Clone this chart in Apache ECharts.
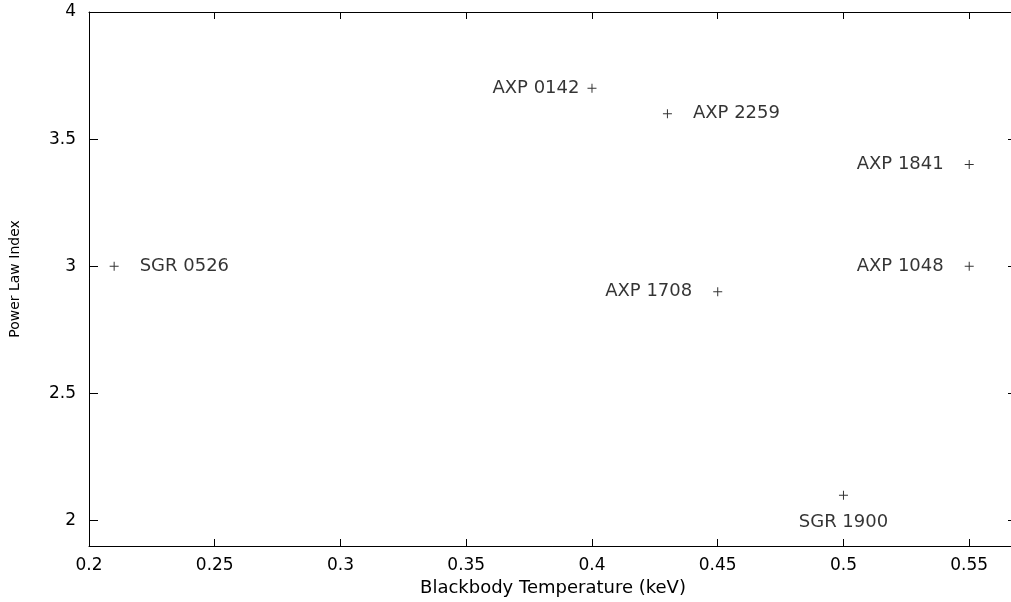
<!DOCTYPE html>
<html>
<head>
<meta charset="utf-8">
<script src="https://cdn.jsdelivr.net/npm/echarts@6/dist/echarts.min.js"></script>
<style>
  html, body { margin: 0; padding: 0; background: #fff; overflow: hidden; }
  /* the plot frame runs a few px past the right edge of the window, like the original */
  #chart { width: 1020px; height: 602px; }
</style>
</head>
<body>
<div id="chart"></div>
<script>
// sources and their fitted values
const names = ['SGR 0526', 'AXP 0142', 'AXP 2259', 'AXP 1841', 'AXP 1048', 'AXP 1708', 'SGR 1900']
const kT = [0.21, 0.40, 0.43, 0.55, 0.55, 0.45, 0.50]      // keV
const gamma = [3.0, 3.7, 3.6, 3.4, 3.0, 2.9, 2.1]          // power law index
const xTicks = [0.2, 0.25, 0.3, 0.35, 0.4, 0.45, 0.5, 0.55]
const yTicks = [2, 2.5, 3, 3.5, 4]

// where each name sits relative to its point
const labelSide = ['right', 'left', 'right', 'left', 'left', 'left', 'bottom']
const labelGap = [21, 8, 21, 21, 21, 21, 14]

const FONT = 'DejaVu Sans'
const plus = 'path://M0,4L9,4L9,5L0,5ZM4,0L5,0L5,9L4,9Z'

var myChart = echarts.init(document.getElementById('chart'))

const pts = names.map((n, i) => ({
    name: n,
    value: [kT[i], gamma[i]],
    label: { position: labelSide[i], distance: labelGap[i] }
}))

const lineStyle = { color: '#000', width: 1 }

var option = {
    animation: false,
    grid: { left: 89, right: 3, top: 12, bottom: 56 },
    xAxis: [
        {
            type: 'value',
            min: 0.2,
            max: 0.569,
            interval: 0.05,
            name: 'Blackbody Temperature (keV)',
            nameLocation: 'middle',
            nameGap: 30,
            nameTextStyle: { fontFamily: FONT, fontSize: 18, color: '#000' },
            axisLine: { show: true, lineStyle: lineStyle },
            axisTick: { show: true, inside: true, length: 7, lineStyle: lineStyle },
            axisLabel: {
                fontFamily: FONT, fontSize: 17, color: '#000', margin: 11,
                showMaxLabel: false,
                formatter: v => xTicks.includes(Math.round(v * 100) / 100) ? String(Math.round(v * 100) / 100) : ''
            },
            splitLine: { show: false }
        },
        {
            type: 'value',
            position: 'top',
            min: 0.2,
            max: 0.569,
            interval: 0.05,
            axisLine: { show: true, lineStyle: lineStyle },
            axisTick: { show: true, inside: true, length: 7, lineStyle: lineStyle },
            axisLabel: { show: false },
            splitLine: { show: false }
        }
    ],
    yAxis: [
        {
            type: 'value',
            min: 1.9,
            max: 4,
            name: 'Power Law Index',
            nameLocation: 'middle',
            nameGap: 67,
            nameTextStyle: { fontFamily: FONT, fontSize: 14, color: '#000' },
            axisLine: { show: true, lineStyle: lineStyle },
            axisTick: {
                show: true, inside: true, length: 9, lineStyle: lineStyle,
                customValues: yTicks
            },
            axisLabel: {
                fontFamily: FONT, fontSize: 17, color: '#000', margin: 13,
                customValues: yTicks
            },
            splitLine: { show: false }
        },
        {
            type: 'value',
            position: 'right',
            min: 1.9,
            max: 4,
            axisLine: { show: true, lineStyle: lineStyle },
            axisTick: {
                show: true, inside: true, length: 9, lineStyle: lineStyle,
                customValues: yTicks
            },
            axisLabel: { show: false },
            splitLine: { show: false }
        }
    ],
    series: [
        {
            type: 'scatter',
            silent: true,
            symbol: plus,
            symbolSize: 9,
            itemStyle: { color: '#000' },
            label: {
                show: true,
                formatter: p => p.name,
                fontFamily: FONT,
                fontSize: 18,
                color: '#000'
            },
            data: pts
        }
    ]
}
myChart.setOption(option)
</script>
</body>
</html>
